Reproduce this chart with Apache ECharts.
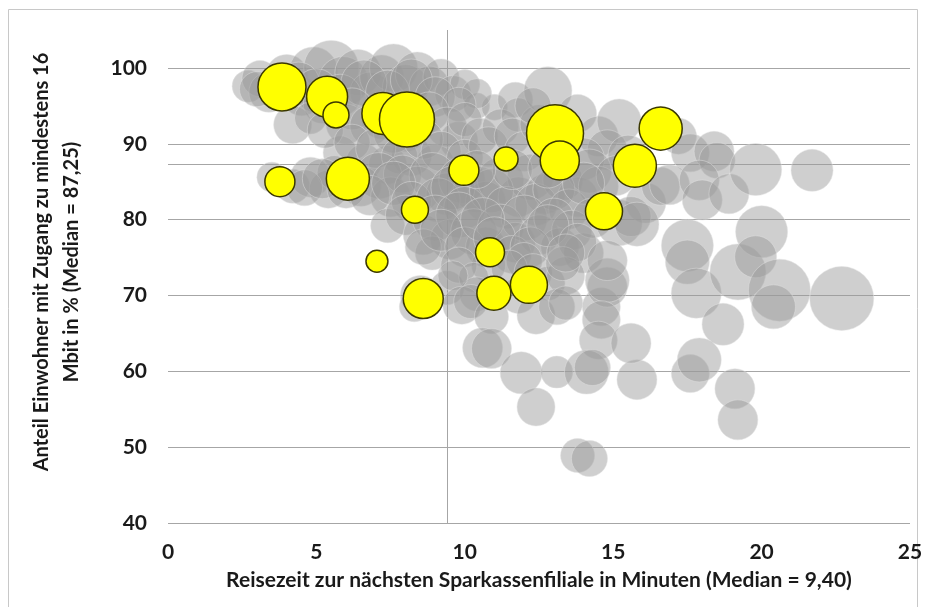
<!DOCTYPE html>
<html>
<head>
<meta charset="utf-8">
<title>Reisezeit Sparkassenfiliale vs. Breitband</title>
<script src="https://cdn.jsdelivr.net/npm/echarts@6/dist/echarts.min.js"></script>
<style>
  html, body { margin: 0; padding: 0; background: #fff; }
  #main { width: 926px; height: 607px; }
</style>
</head>
<body>
<div id="main"></div>
<script>
// [Reisezeit in Minuten, Anteil >= 16 Mbit in %, Gewicht (Blasengröße)]
var grauePunkte = [
  [2.7, 97.6, 100], [3.1, 98.6, 127], [3.4, 96.8, 156], [4.0, 99.0, 172], [4.5, 96.2, 141],
  [4.9, 99.6, 225], [5.5, 100.0, 295], [5.9, 98.2, 244], [6.4, 99.4, 207], [6.8, 96.8, 156],
  [7.2, 98.8, 189], [7.6, 100.0, 225], [8.0, 97.4, 207], [8.4, 99.2, 189], [8.8, 97.6, 156],
  [9.2, 98.8, 127], [9.6, 96.6, 127], [10.0, 97.8, 88], [10.4, 95.0, 66], [11.0, 94.8, 66],
  [10.4, 96.6, 88], [11.7, 95.8, 120],
  [3.0, 97.2, 120], [3.8, 97.8, 156], [4.4, 98.0, 172], [5.0, 97.0, 189], [5.8, 96.4, 172],
  [6.6, 98.0, 207], [7.4, 96.8, 189], [8.2, 98.4, 172], [9.0, 96.2, 156], [9.8, 95.2, 113],
  [5.2, 95.2, 141], [6.0, 92.6, 156], [7.2, 93.4, 172], [8.0, 91.6, 156], [9.8, 90.4, 141],
  [8.4, 92.8, 141], [5.8, 88.8, 113], [6.6, 87.6, 127], [7.4, 87.2, 141], [8.2, 88.4, 156],
  [9.0, 87.4, 141],
  [4.2, 92.5, 141], [4.8, 93.4, 100], [5.3, 91.8, 127], [6.2, 94.6, 172], [6.8, 92.4, 156],
  [7.6, 91.4, 156], [8.8, 94.2, 156], [9.4, 92.2, 156], [10.0, 93.2, 113], [10.5, 91.0, 127],
  [11.2, 92.2, 127], [11.8, 93.8, 113], [6.2, 90.2, 127], [7.0, 89.4, 156], [7.8, 88.4, 127],
  [8.6, 90.6, 156], [9.2, 89.0, 156], [10.0, 88.2, 127], [10.8, 89.6, 156], [11.6, 91.0, 127],
  [12.0, 89.0, 156], [12.5, 92.6, 141], [12.8, 97.0, 225], [12.3, 95.0, 127], [13.8, 94.0, 141],
  [14.5, 91.0, 156], [15.2, 93.0, 189], [14.8, 89.2, 156], [14.0, 88.0, 172], [15.5, 88.5, 156],
  [17.2, 91.0, 127], [17.6, 88.8, 141], [18.4, 89.0, 156], [18.5, 87.8, 127],
  [3.5, 85.6, 88], [4.2, 84.4, 113], [4.8, 85.6, 156], [5.4, 84.0, 141], [5.6, 86.2, 113],
  [6.5, 84.4, 156], [7.1, 85.8, 207], [7.5, 83.0, 156], [7.9, 86.0, 141], [8.4, 84.0, 207],
  [8.9, 85.8, 207], [9.4, 83.4, 172], [9.9, 85.2, 207], [10.4, 84.0, 207], [10.7, 82.4, 156],
  [11.2, 85.2, 207], [11.8, 83.0, 156], [12.2, 85.6, 207], [12.7, 83.4, 156], [13.3, 85.2, 156],
  [13.8, 83.0, 156], [14.2, 86.4, 189], [14.5, 84.4, 156], [15.1, 85.8, 156], [16.1, 82.2, 156],
  [16.6, 84.4, 141], [16.9, 84.6, 156], [17.9, 85.2, 156], [18.0, 82.6, 156], [18.9, 83.4, 156],
  [19.8, 86.6, 264], [21.7, 86.5, 172],
  [4.6, 84.2, 127], [5.2, 85.4, 156], [6.0, 84.0, 141], [6.8, 83.2, 156], [7.6, 84.8, 189],
  [8.2, 82.4, 156], [9.1, 82.6, 189], [9.6, 84.2, 189], [10.0, 81.6, 172], [10.9, 83.8, 189],
  [11.4, 81.6, 172], [12.4, 82.0, 172], [13.0, 84.0, 172], [13.5, 81.4, 156], [14.0, 84.8, 172],
  [11.6, 86.6, 156], [12.8, 86.8, 156], [10.4, 86.6, 141],
  [7.4, 79.2, 113], [8.0, 80.6, 156], [8.6, 78.0, 156], [9.0, 80.2, 207], [9.5, 77.4, 156],
  [9.8, 80.6, 207], [10.3, 78.4, 207], [10.7, 76.4, 156], [11.2, 79.0, 207], [11.7, 77.0, 156],
  [12.0, 80.2, 207], [12.5, 78.0, 156], [13.0, 80.2, 156], [13.2, 76.4, 141], [13.6, 78.6, 156],
  [14.0, 75.6, 156], [14.3, 80.2, 156], [15.2, 79.6, 207], [15.6, 80.4, 156], [8.9, 75.6, 113],
  [8.6, 76.4, 127], [9.2, 78.6, 172], [10.0, 76.4, 156], [10.6, 80.0, 189], [11.0, 77.6, 172],
  [11.6, 75.4, 141], [12.2, 76.4, 156], [12.8, 79.2, 172], [12.0, 74.6, 127], [13.8, 77.0, 141],
  [10.8, 74.0, 113], [9.4, 71.0, 113],
  [9.8, 74.0, 127], [10.3, 72.4, 88], [11.5, 73.6, 127], [12.3, 73.0, 141], [12.8, 71.6, 113],
  [13.4, 72.6, 141], [13.3, 74.2, 113], [13.4, 75.6, 141], [11.8, 70.0, 127], [10.4, 70.2, 113],
  [9.6, 72.6, 88], [8.5, 70.0, 156], [8.3, 68.5, 88], [9.9, 68.7, 141], [10.2, 69.2, 113],
  [10.9, 67.2, 113], [12.4, 67.4, 141], [13.1, 68.5, 127], [13.4, 69.0, 113], [14.6, 68.5, 141],
  [14.8, 71.1, 156], [14.8, 72.0, 189], [14.8, 74.6, 156], [14.6, 66.8, 141], [14.5, 64.1, 141],
  [15.8, 79.4, 189], [17.5, 76.6, 264], [17.5, 74.4, 189], [17.8, 70.3, 244], [19.2, 73.1, 306],
  [20.0, 78.4, 264], [19.8, 75.1, 172], [20.6, 70.7, 375], [20.4, 68.5, 189], [22.7, 69.6, 400],
  [18.7, 66.2, 172],
  [10.6, 63.1, 156], [10.9, 63.0, 156], [11.9, 59.8, 172], [12.4, 55.3, 141], [13.1, 59.9, 100],
  [14.1, 59.9, 189], [14.3, 60.5, 127], [15.8, 58.9, 156], [15.6, 63.7, 156], [17.6, 59.7, 141],
  [17.9, 61.5, 189], [19.1, 57.7, 156], [19.2, 53.6, 156], [13.8, 48.9, 113], [14.2, 48.5, 127]
];

// hervorgehobene Kreise (gelb)
var gelbePunkte = [
  [3.84, 97.5, 225], [5.36, 96.2, 164], [5.66, 93.8, 66], [7.24, 94.0, 172], [8.05, 93.2, 295],
  [3.77, 85.0, 88], [6.06, 85.4, 181], [8.32, 81.3, 71], [7.04, 74.5, 47], [8.6, 69.6, 156],
  [9.97, 86.5, 88], [11.39, 88.0, 56], [13.04, 91.4, 317], [13.2, 87.8, 149], [16.6, 92.0, 181],
  [15.73, 87.1, 181], [14.69, 81.1, 134], [10.85, 75.7, 82], [10.98, 70.3, 113], [12.16, 71.4, 134]
];

var yTicks = [40, 50, 60, 70, 80, 90, 100];
var medianX = 9.4;
var medianY = 87.25;

var xTitel = "Reisezeit zur nächsten Sparkassenfiliale in Minuten (Median = 9,40)";
var yTitel = "Anteil Einwohner mit Zugang zu mindestens 16\nMbit in % (Median = 87,25)";

function blasenGroesse(d) {
  return Math.sqrt(d[2]) * 3.2;
}

function init_bubble_chart(container) {
  var chartDom = document.getElementById(container);
  var myChart = echarts.init(chartDom);
  var labelStyle = {
    color: "#1a1a1a",
    fontFamily: "Lato",
    fontWeight: "bold",
    fontSize: 21,
  };

  // Gitterlinien + Medianlinien
  var linien = yTicks.map(function (v) {
    return { yAxis: v };
  });
  linien.push({ yAxis: medianY });
  linien.push({ xAxis: medianX });

  var option = {
    animation: false,
    backgroundColor: "#fff",
    grid: {
      left: 168,
      right: 16,
      top: 30,
      bottom: 84,
    },
    graphic: [
      {
        type: "rect",
        shape: { x: 8.5, y: 9.5, width: 909, height: 620 },
        style: { fill: "none", stroke: "#c8c8c8", lineWidth: 1 },
        silent: true,
      },
      {
        type: "text",
        x: 57,
        y: 262,
        rotation: Math.PI / 2,
        silent: true,
        style: {
          text: yTitel,
          align: "center",
          verticalAlign: "middle",
          textAlign: "center",
          textVerticalAlign: "middle",
          lineHeight: 30,
          font: "bold 20px Lato",
          fill: "#1a1a1a",
        },
      },
    ],
    xAxis: {
      type: "value",
      min: 0,
      max: 25,
      interval: 5,
      name: xTitel,
      nameLocation: "middle",
      nameGap: 47,
      nameTextStyle: {
        color: "#1a1a1a",
        fontFamily: "Lato",
        fontWeight: "bold",
        fontSize: 21,
      },
      axisLine: { show: false },
      axisTick: { show: false },
      splitLine: { show: false },
      axisLabel: Object.assign({ margin: 19 }, labelStyle),
    },
    yAxis: {
      type: "value",
      min: 40,
      max: 105,
      interval: 10,
      axisLine: { show: false },
      axisTick: { show: false },
      splitLine: { show: false },
      axisLabel: Object.assign({ margin: 21, showMaxLabel: false }, labelStyle),
    },
    series: [
      {
        name: "grau",
        type: "scatter",
        z: 2,
        data: grauePunkte,
        symbolSize: blasenGroesse,
        itemStyle: {
          color: "#999999",
          opacity: 0.47,
          borderColor: "#e2e2e2",
          borderWidth: 1,
        },
        emphasis: { disabled: true },
        markLine: {
          silent: true,
          z: 1,
          symbol: "none",
          label: { show: false },
          lineStyle: { color: "#a6a6a6", width: 1, type: "solid" },
          data: linien,
        },
      },
      {
        name: "gelb",
        type: "scatter",
        z: 3,
        data: gelbePunkte,
        symbolSize: blasenGroesse,
        itemStyle: {
          color: "#ffff00",
          opacity: 1,
          borderColor: "#3b3800",
          borderWidth: 1.5,
        },
        emphasis: { disabled: true },
      },
    ],
  };

  myChart.setOption(option);
  window.addEventListener("resize", function () {
    myChart.resize();
  });
}

init_bubble_chart("main");
</script>
</body>
</html>
